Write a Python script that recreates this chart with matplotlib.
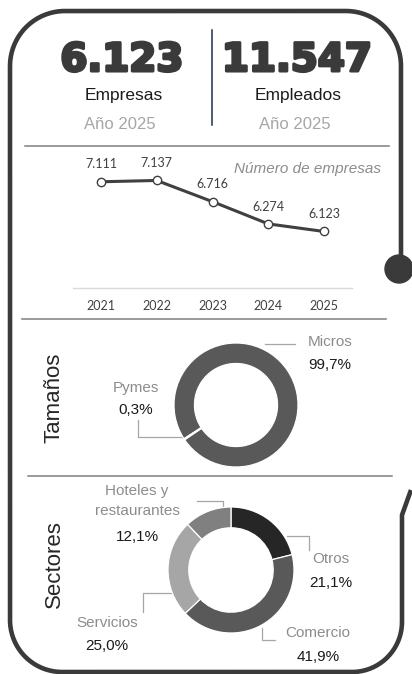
import numpy as np
import matplotlib
matplotlib.use("Agg")
import matplotlib.pyplot as plt
from matplotlib.patches import Circle
import matplotlib.patheffects as pe

W, H = 412, 674

# headline figures
empresas_total = 6123
empleados_total = 11547
anio_label = "Año 2025"

# line chart: number of companies per year
years = ["2021", "2022", "2023", "2024", "2025"]
num_empresas = [7111, 7137, 6716, 6274, 6123]

# donut: company sizes
tamanos = ["Micros", "Pymes"]
tamanos_pct = [99.7, 0.3]
tamanos_colors = ["#595959", "#595959"]

# donut: sectors
sectores = ["Otros", "Comercio", "Servicios", "Hoteles y\nrestaurantes"]
sectores_pct = [21.1, 41.9, 25.0, 12.1]
sectores_colors = ["#262626", "#595959", "#a6a6a6", "#808080"]

SANS = "Liberation Sans"
CHART = "Lato"
DARK = "#3a3a3a"
GREY_TXT = "#8c8c8c"


def miles(v):
    return f"{v:,}".replace(",", ".")


def pct(v):
    return f"{v:.1f}".replace(".", ",") + "%"


def rect(x0, y0, x1, y1):
    """pixel box (top-left origin) -> figure fraction"""
    return [x0 / W, 1 - y1 / H, (x1 - x0) / W, (y1 - y0) / H]


fig = plt.figure(figsize=(W / 100, H / 100), dpi=100)
bg = fig.add_axes([0, 0, 1, 1])
bg.set_xlim(0, W)
bg.set_ylim(H, 0)
bg.axis("off")

# --- frame -----------------------------------------------------------
def arc(cx, cy, r, t0, t1, n=40):
    t = np.radians(np.linspace(t0, t1, n))
    return list(cx + r * np.cos(t)), list(cy + r * np.sin(t))

xs, ys = [401], [258]
for seg in [arc(346, 66, 55, 0, -90), arc(65, 66, 55, 270, 180),
            arc(62, 620, 52, 180, 90), arc(352, 622, 50, 90, 0)]:
    xs += seg[0]
    ys += seg[1]
xs += [402, 411]
ys += [515, 490]
bg.plot(xs, ys, color=DARK, lw=3.3, solid_joinstyle="round", solid_capstyle="butt")
bg.add_patch(Circle((399, 269), 14, color=DARK))

# --- headline --------------------------------------------------------
heavy = [pe.withStroke(linewidth=2.2, foreground=DARK)]
for x, val, lab in [(122, empresas_total, "Empresas"), (297, empleados_total, "Empleados")]:
    bg.text(x, 71, miles(val), ha="center", va="baseline", fontsize=28,
            fontweight="bold", family="DejaVu Sans", color=DARK, path_effects=heavy)
    bg.text(x + 1.5, 100, lab, ha="center", va="baseline", fontsize=12.5,
            family=SANS, color="#1a1a1a")
    bg.text(x - 2, 129, anio_label, ha="center", va="baseline", fontsize=12,
            family=SANS, color="#a6a6a6")
bg.plot([212, 212], [30, 125], color="#1f2d4d", lw=1.1)

# section separators
for y, x0, x1 in [(146, 25, 389), (319, 22, 386), (476, 28, 392)]:
    bg.plot([x0, x1], [y, y], color="#7f7f7f", lw=1.1)

# --- line chart ------------------------------------------------------
ax = fig.add_axes(rect(73, 162.2, 352, 288))
ax.patch.set_alpha(0)
xi = np.arange(len(years))
ax.plot(xi, num_empresas, color="#404040", lw=2.2, marker="o", ms=6,
        mfc="white", mec="#404040", mew=1, zorder=3)
for x, v in zip(xi, num_empresas):
    ax.annotate(miles(v), (x, v), xytext=(0, 12.5), textcoords="offset points",
                ha="center", va="center", fontsize=9, family=CHART, color="#404040",
                annotation_clip=False)
ax.set_xlim(-0.5, len(years) - 0.5)
ax.set_ylim(5000, 7500)
ax.set_xticks(xi, years, family=CHART, fontsize=9, color="#404040")
ax.set_yticks([])
ax.tick_params(axis="x", length=0, pad=9)
for s in ["top", "left", "right"]:
    ax.spines[s].set_visible(False)
ax.spines["bottom"].set_color("#d9d9d9")
ax.spines["bottom"].set_linewidth(1)
bg.text(381, 169, "Número de empresas", ha="right", va="center", fontsize=11,
        style="italic", family=SANS, color=GREY_TXT)

# --- donuts ----------------------------------------------------------
def donut(box, values, colors, start):
    dax = fig.add_axes(rect(*box))
    dax.pie(values, colors=colors, startangle=start, counterclock=False,
            wedgeprops=dict(width=0.33, edgecolor="white", linewidth=0.9))
    dax.set_xlim(-1, 1)
    dax.set_ylim(-1, 1)
    dax.set_aspect("equal")
    dax.axis("off")
    return dax


def label(x, y_cat, y_pct, name, value, spacing=1.2):
    bg.text(x, y_cat, name, ha="center", va="center", fontsize=11, family=SANS,
            color=GREY_TXT, linespacing=spacing)
    bg.text(x, y_pct, pct(value), ha="center", va="center", fontsize=11,
            family=SANS, color="#1a1a1a")


def leader(px, py):
    bg.plot(px, py, color="#a6a6a6", lw=0.9)


# tamaños
donut((174, 343, 298, 467), tamanos_pct, tamanos_colors, 213)
bg.text(54, 398, "Tamaños", rotation=90, ha="center", va="center", fontsize=16,
        family=SANS, color="#262626")
label(330, 342, 365, tamanos[0], tamanos_pct[0])
label(136, 388, 410, tamanos[1], tamanos_pct[1])
leader([265, 295], [344, 344])
leader([183, 138, 138], [437, 437, 420])

# sectores
donut((168, 507, 294, 633), sectores_pct, sectores_colors, 90)
bg.text(54, 564, "Sectores", rotation=90, ha="center", va="center", fontsize=16,
        family=SANS, color="#262626")
label(331, 559, 583, sectores[0], sectores_pct[0])
label(318, 633, 657, sectores[1], sectores_pct[1])
label(107, 623, 646, sectores[2], sectores_pct[2])
label(137, 501, 537, sectores[3], sectores_pct[3], spacing=1.5)
leader([287, 309, 309], [536, 536, 550])
leader([262, 262, 275], [628, 640, 640])
leader([172, 143, 143], [593, 593, 612])
leader([197, 223, 223], [501, 501, 507])

fig.savefig("out.png", dpi=100)
